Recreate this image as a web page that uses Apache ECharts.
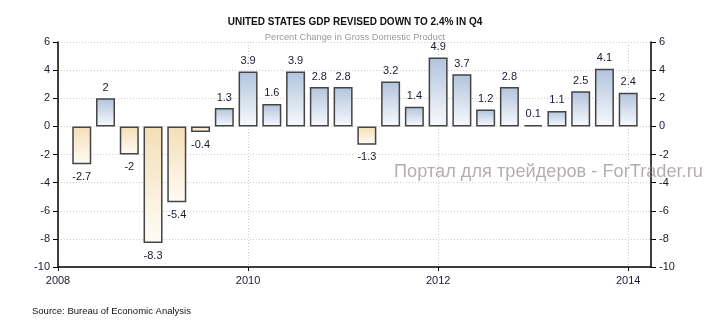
<!DOCTYPE html>
<html>
<head>
<meta charset="utf-8">
<script src="https://cdn.jsdelivr.net/npm/echarts@6/dist/echarts.min.js"></script>
<style>html,body{margin:0;padding:0;background:#fff;}#c{width:710px;height:325px;}</style>
</head>
<body>
<div id="c"></div>
<script>
const quarters = ['2008Q1','2008Q2','2008Q3','2008Q4','2009Q1','2009Q2','2009Q3','2009Q4',
  '2010Q1','2010Q2','2010Q3','2010Q4','2011Q1','2011Q2','2011Q3','2011Q4',
  '2012Q1','2012Q2','2012Q3','2012Q4','2013Q1','2013Q2','2013Q3','2013Q4'];
const gdpGrowth = [-2.7, 2, -2, -8.3, -5.4, -0.4, 1.3, 3.9, 1.6, 3.9, 2.8, 2.8,
  -1.3, 3.2, 1.4, 4.9, 3.7, 1.2, 2.8, 0.1, 1.1, 2.5, 4.1, 2.4];
const yearTicks = [2008, 2010, 2012, 2014];
const valueTicks = [-10, -8, -6, -4, -2, 0, 2, 4, 6];

const titleText = 'UNITED STATES GDP REVISED DOWN TO 2.4% IN Q4';
const subtitleText = 'Percent Change in Gross Domestic Product';
const sourceText = 'Source: Bureau of Economic Analysis';
const watermarkText = 'Портал для трейдеров - ForTrader.ru';

// quarter-end position on a year scale
function quarterPos(q) {
  const y = parseInt(q.slice(0, 4), 10);
  const n = parseInt(q.slice(5), 10);
  return y + n * 0.25;
}

const FONT = 'Liberation Sans';
const LABEL_COLOR = '#1a1a33';

const posGrad = new echarts.graphic.LinearGradient(0, 0, 0, 1, [
  { offset: 0, color: '#b1c3dd' }, { offset: 1, color: '#f8fafd' }]);
const negGrad = new echarts.graphic.LinearGradient(0, 0, 0, 1, [
  { offset: 0, color: '#f4deb5' }, { offset: 1, color: '#fffcf6' }]);

const barData = quarters.map((q, i) => {
  const v = gdpGrowth[i];
  return {
    value: [quarterPos(q), v],
    itemStyle: { color: v >= 0 ? posGrad : negGrad },
    label: { position: v >= 0 ? 'top' : 'bottom', distance: v >= 0 ? 5 : 7 }
  };
});

const yAxisCommon = {
  type: 'value', min: -10, max: 6, interval: 2,
  axisLine: { show: true, lineStyle: { color: '#000', width: 1.5 } },
  axisTick: { show: true, length: 5, lineStyle: { color: '#000' } },
  axisLabel: { color: LABEL_COLOR, fontFamily: FONT, fontSize: 11, margin: 8,
    customValues: valueTicks },
};

const chart = echarts.init(document.getElementById('c'), null, { renderer: 'canvas' });
chart.setOption({
  animation: false,
  backgroundColor: '#fff',
  title: [
    { text: titleText, left: 'center', top: 12,
      textStyle: { fontFamily: FONT, fontWeight: 'bold', fontSize: 10, color: '#111' } },
    { text: subtitleText, left: 'center', top: 28,
      textStyle: { fontFamily: FONT, fontWeight: 'normal', fontSize: 9.3, color: '#999' } }
  ],
  grid: { left: 58, right: 59, top: 42, bottom: 58, containLabel: false },
  xAxis: {
    type: 'value', min: 2008, max: 2014.24, interval: 2,
    axisLine: { show: true, onZero: false, lineStyle: { color: '#000', width: 1.5 } },
    axisTick: { show: true, length: 4, lineStyle: { color: '#000' }, customValues: yearTicks },
    axisLabel: { color: LABEL_COLOR, fontFamily: FONT, fontSize: 11, margin: 8,
      customValues: yearTicks, formatter: v => String(v) },
    splitLine: { show: true, lineStyle: { color: '#cccccc', type: [1, 2] } }
  },
  yAxis: [
    Object.assign({}, yAxisCommon, { position: 'left',
      splitLine: { show: true, lineStyle: { color: '#cccccc', type: [1, 2] } } }),
    Object.assign({}, yAxisCommon, { position: 'right', splitLine: { show: false } })
  ],
  series: [{
    type: 'bar',
    data: barData,
    barWidth: 19,
    itemStyle: { borderColor: '#444', borderWidth: 1.5 },
    label: { show: true, color: LABEL_COLOR, fontFamily: FONT, fontSize: 11,
      formatter: p => String(p.value[1]) }
  }],
  graphic: [
    { type: 'text', left: 394, top: 163, silent: true, z: 100,
      style: { text: watermarkText, fill: 'rgba(150,140,140,0.7)', font: '18.2px ' + FONT } },
    { type: 'text', left: 32, top: 306,
      style: { text: sourceText, fill: '#111', font: '9.5px ' + FONT } }
  ]
});
</script>
</body>
</html>
